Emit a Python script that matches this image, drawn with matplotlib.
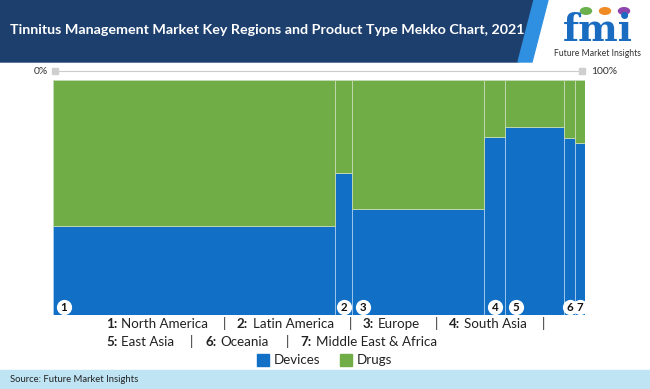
import numpy as np
import matplotlib.pyplot as plt
from matplotlib.patches import Polygon, Rectangle, Circle

# data
regions = ["North America", "Latin America", "Europe", "South Asia",
           "East Asia", "Oceania", "Middle East & Africa"]
region_share = [53.1, 3.1, 24.9, 3.9, 11.1, 2.0, 1.9]     # column widths, %
devices = [37.9, 60.4, 45.0, 75.6, 79.9, 75.4, 73.0]      # % of each column
drugs = [100 - d for d in devices]
series_names = ["Devices", "Drugs"]

BLUE = "#1170c6"
GREEN = "#70ad47"
NAVY = "#1d3f6e"

plt.rcParams['font.family'] = ['Lato', 'DejaVu Sans']

W, H = 650, 389
fig = plt.figure(figsize=(W / 100, H / 100), dpi=100)

def fx(px):
    return px / W

def fy(py):
    return 1 - py / H

# ---------------- header ----------------
fig.patches.append(Polygon([(0, fy(0)), (fx(534), fy(0)), (fx(518), fy(62)), (0, fy(62))],
                           closed=True, transform=fig.transFigure, color=NAVY, zorder=0))
fig.patches.append(Polygon([(fx(534), fy(0)), (fx(548), fy(0)), (fx(532), fy(62)), (fx(518), fy(62))],
                           closed=True, transform=fig.transFigure, color="#2f8fe0", zorder=0))
fig.text(fx(10), fy(30), "Tinnitus Management Market Key Regions and Product Type Mekko Chart, 2021",
         color="white", fontsize=10.25, fontweight="bold", va="center", ha="left")

# logo
fig.text(fx(598), fy(41), "fmi", color="#1a6cc0", fontsize=27, fontweight="bold",
         family="DejaVu Serif", ha="center", va="baseline")
for cx, col in [(586, "#6ab04c"), (605, "#f08a24"), (624, "#8e44ad")]:
    fig.patches.append(Circle((fx(cx), fy(11)), 5.5 / W, transform=fig.transFigure,
                              color=col, zorder=3))
fig.text(fx(598), fy(54), "Future Market Insights", color="#333333", fontsize=6.2,
         ha="center", va="center")

# ---------------- source bar ----------------
fig.patches.append(Rectangle((0, 0), 1, fy(370), transform=fig.transFigure,
                             color="#bfe4f4", zorder=0))
fig.text(fx(10), fy(380), "Source: Future Market Insights", fontsize=6.8,
         color="#222222", va="center")

# ---------------- mekko ----------------
ax = fig.add_axes([fx(53), fy(315), fx(585) - fx(53), fy(80) - fy(315)])
widths = np.array(region_share)
lefts = np.concatenate([[0], np.cumsum(widths)[:-1]])
ax.bar(lefts, devices, width=widths, align="edge", color=BLUE,
       edgecolor="#a9cdee", linewidth=0.6)
ax.bar(lefts, drugs, bottom=devices, width=widths, align="edge", color=GREEN,
       edgecolor="#c5dcb4", linewidth=0.6)
ax.set_xlim(0, 100)
ax.set_ylim(0, 100)
ax.axis("off")

for i, (l, w) in enumerate(zip(lefts, widths)):
    x = min(l + 2.0, l + w / 2)
    ax.scatter([x], [3.4], s=120, color="white", zorder=4, linewidths=0)
    ax.text(x, 3.4, str(i + 1), fontsize=8.3, fontweight="bold", ha="center",
            va="center", zorder=5, color="#111111")

# top 0% - 100% scale
y0 = fy(71)
fig.add_artist(plt.Line2D([fx(56), fx(582)], [y0, y0], color="#cccccc", lw=0.8))
for px in (55, 582):
    fig.patches.append(Rectangle((fx(px - 3), y0 - 3 / H), 6 / W, 6 / H,
                                 transform=fig.transFigure, color="#cfcfcf", zorder=3))
fig.text(fx(48), y0, "0%", fontsize=7.5, color="#333333", ha="right", va="center")
fig.text(fx(591), y0, "100%", fontsize=7.5, color="#333333", ha="left", va="center")

# region key
line1 = [(106, "1:", True), (121, regions[0], False), (223, "|", False),
         (237, "2:", True), (253, regions[1], False), (349, "|", False),
         (363, "3:", True), (378, regions[2], False), (435, "|", False),
         (449, "4:", True), (464, regions[3], False), (542, "|", False)]
line2 = [(106, "5:", True), (121, regions[4], False), (190, "|", False),
         (205, "6:", True), (220, regions[5], False), (286, "|", False),
         (300, "7:", True), (316, regions[6], False)]
for py, items in [(324, line1), (342, line2)]:
    for px, s, b in items:
        fig.text(fx(px), fy(py), s, fontsize=9.6, color="#222222",
                 fontweight="bold" if b else "normal", ha="left", va="center")

# legend
for px, col, name in [(257, BLUE, series_names[0]), (340, GREEN, series_names[1])]:
    fig.patches.append(Rectangle((fx(px), fy(366)), 12 / W, 12 / H,
                                 transform=fig.transFigure, color=col))
    fig.text(fx(px + 17), fy(360), name, fontsize=9.6, color="#222222", va="center")

fig.savefig("out.png", dpi=100)
